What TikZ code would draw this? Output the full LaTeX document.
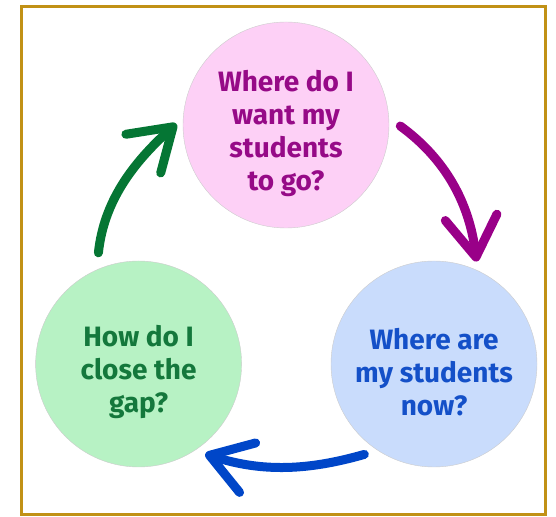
\documentclass[tikz,border=0pt]{standalone}
\usepackage{fontspec}
\setmainfont{Fira Sans}
\usepackage{tikz}
\usetikzlibrary{positioning,arrows.meta}
\definecolor{framegold}{RGB}{193,145,22}
\definecolor{pinkfill}{RGB}{253,208,246}
\definecolor{pinktext}{RGB}{150,10,135}
\definecolor{pinkline}{RGB}{153,0,136}
\definecolor{bluefill}{RGB}{201,220,252}
\definecolor{bluetext}{RGB}{20,80,200}
\definecolor{blueline}{RGB}{0,70,200}
\definecolor{greenfill}{RGB}{183,242,196}
\definecolor{greentext}{RGB}{20,120,60}
\definecolor{greenline}{RGB}{5,118,52}
\newcommand{\topgap}{\rule{0pt}{38pt}}
\tikzset{
  frame/.style={draw=framegold,line width=3.5pt},
  place/.style={circle,draw=black!20,line width=0.4pt,minimum size=206pt,inner sep=0pt,align=center,
   font=\fontsize{28}{33}\selectfont\bfseries},
  pinkplace/.style={place,fill=pinkfill,text=pinktext},
  blueplace/.style={place,fill=bluefill,text=bluetext},
  greenplace/.style={place,fill=greenfill,text=greentext},
  flow/.style={line width=9pt,line cap=round,-{Straight Barb[length=40pt,width=52pt,round]},
   shorten <=14pt,shorten >=9pt},
  pinkflow/.style={flow,draw=pinkline},
  blueflow/.style={flow,draw=blueline},
  greenflow/.style={flow,draw=greenline}
}
\begin{document}
\begin{tikzpicture}[x=1pt,y=1pt]
  \useasboundingbox (0,0) rectangle (556,516);
  \draw[frame] (21.5,1.5) rectangle (545.5,509.5);

  \node [pinkplace] (g0) at (286,391) {\topgap Where do I\\want my\\students\\to go?};
  \node [blueplace] (g1) at ([shift={(148,-239)}]g0) {\topgap Where are\\my students\\now?};
  \node [greenplace,left=89pt of g1] (g2) {\topgap How do I\\close the\\gap?};

  \draw [pinkflow] (g0.4) to[out=-36,in=97] (g1.65);
  \draw [blueflow,shorten >=11pt] (g1.237) to[out=196,in=-18] (g2.303);
  \draw [greenflow,shorten <=17pt] (g2.114) to[out=84,in=222] (g0.176);
\end{tikzpicture}
\end{document}
